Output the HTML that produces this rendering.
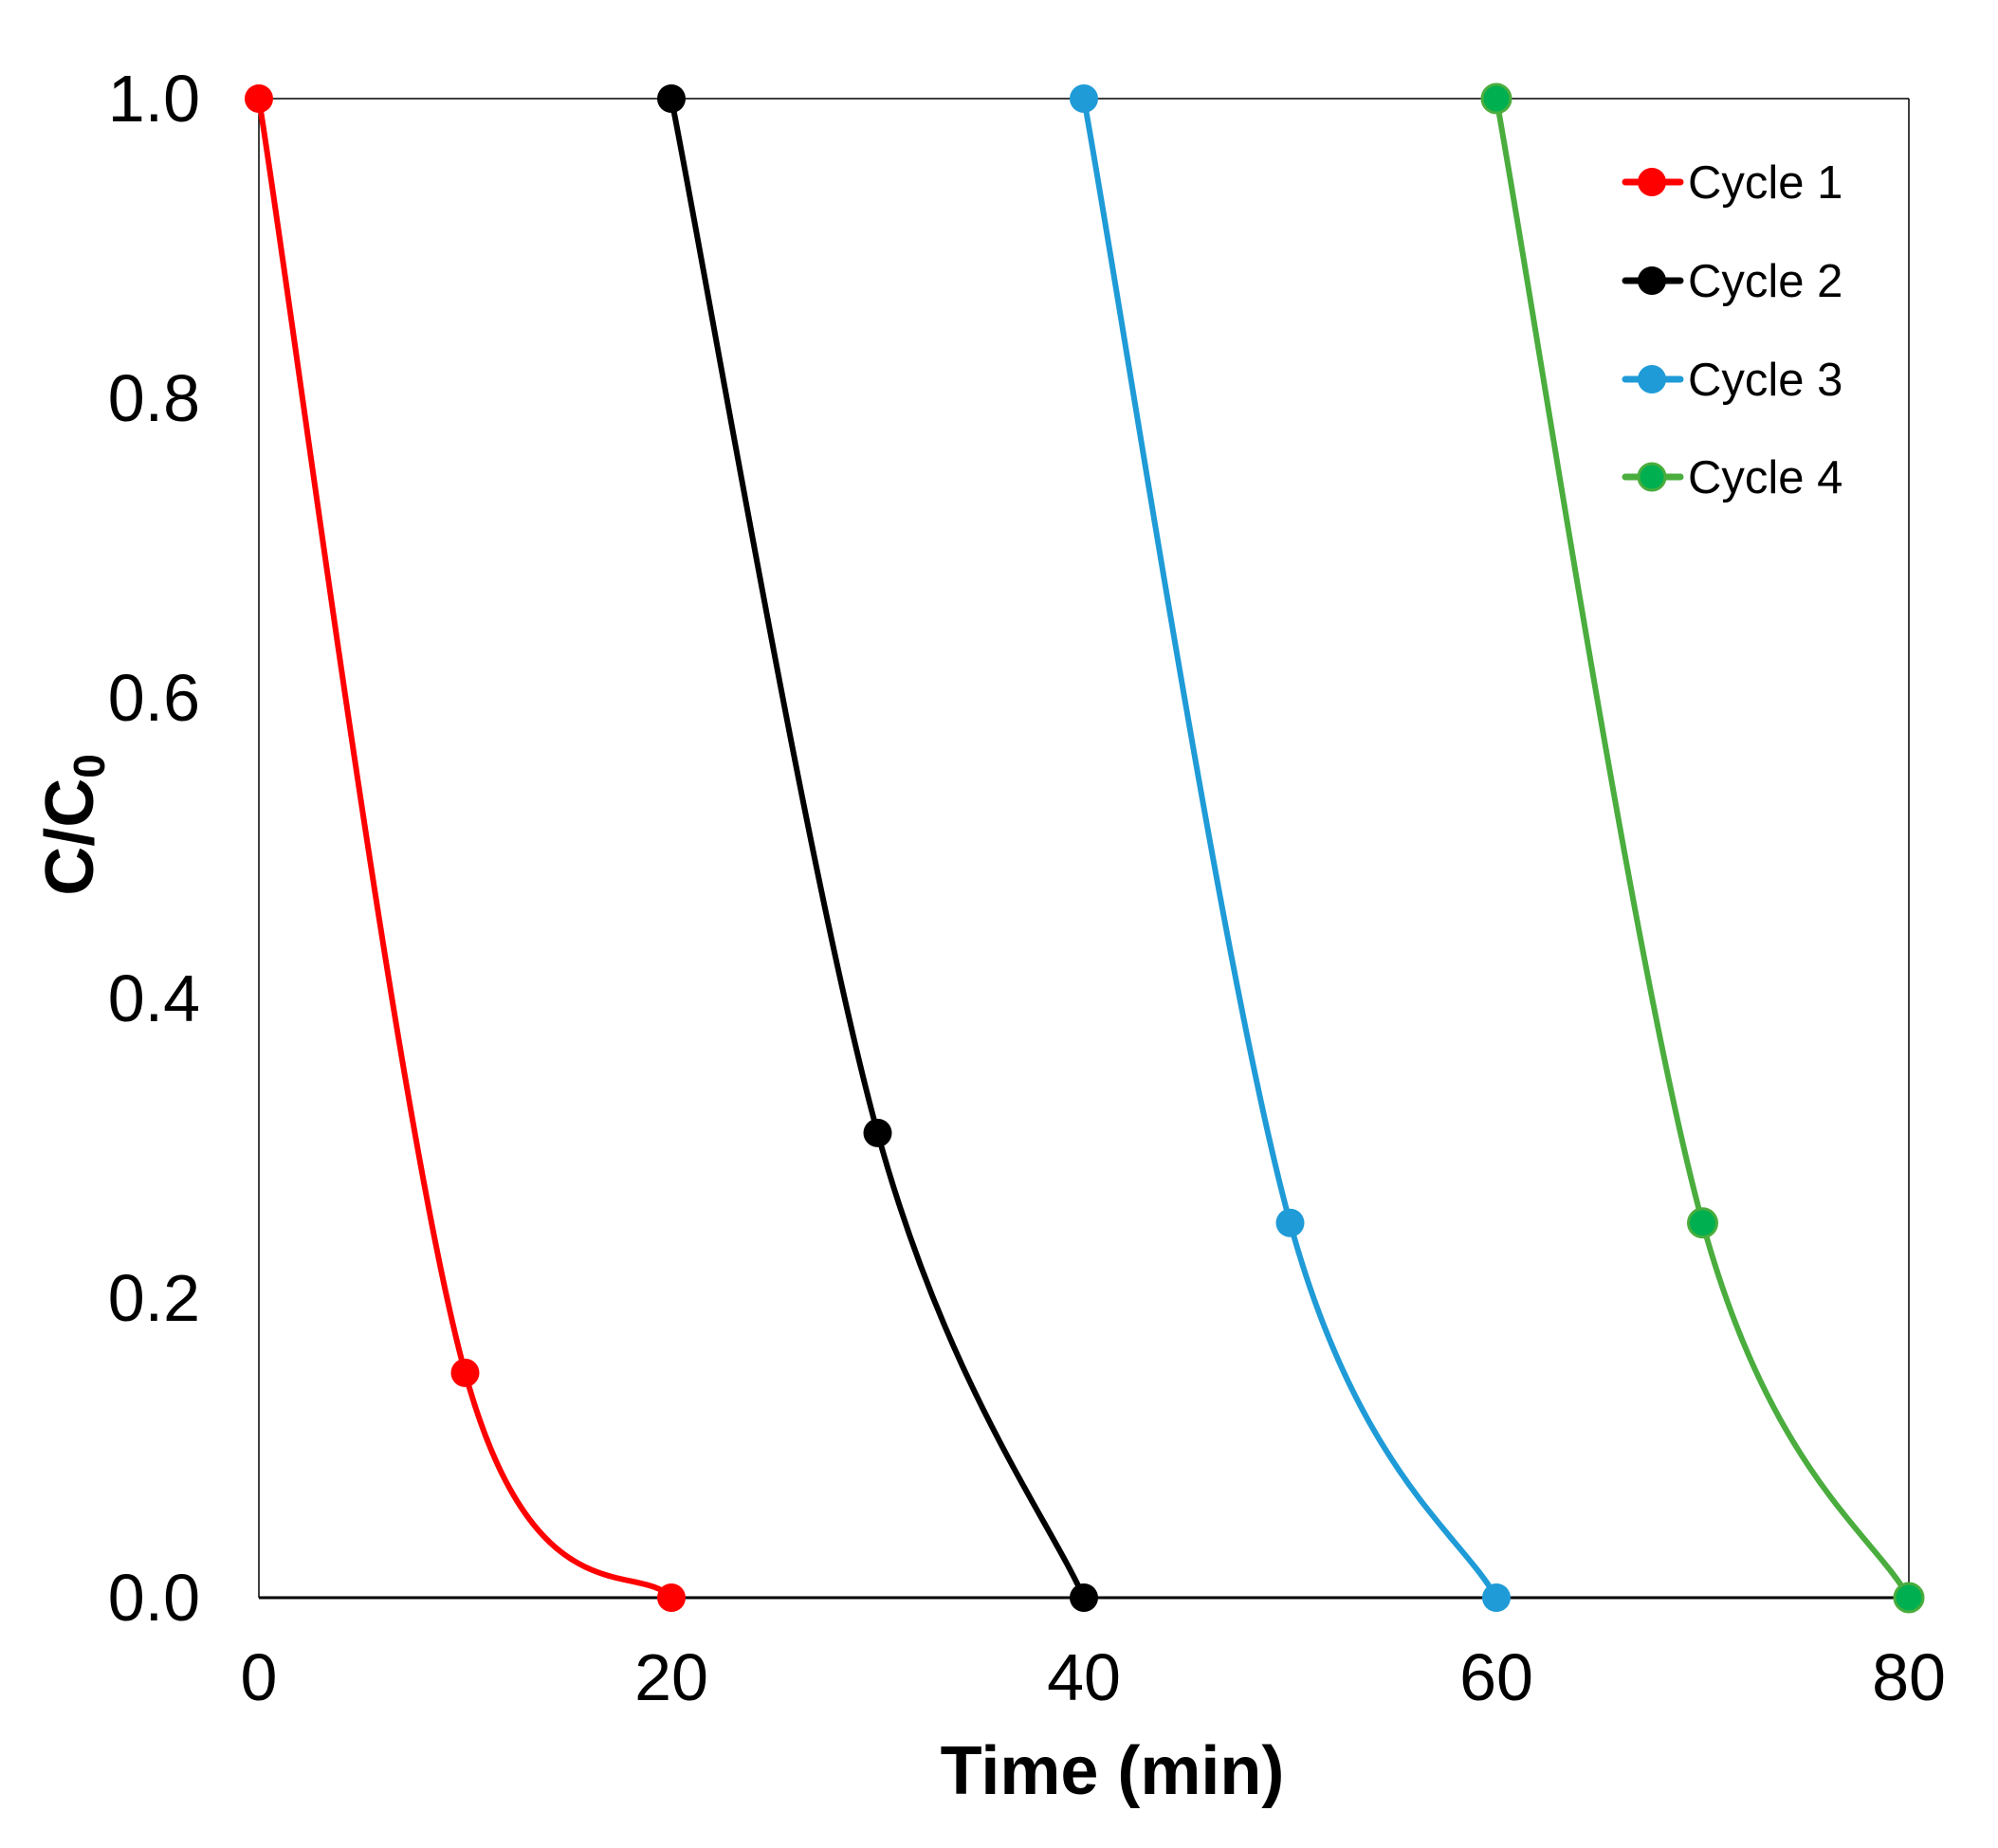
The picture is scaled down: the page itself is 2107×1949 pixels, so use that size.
<!DOCTYPE html>
<html><head><meta charset="utf-8"><style>
html,body{margin:0;padding:0;background:#fff;}
svg{display:block;}
text{font-family:"Liberation Sans",Arial,sans-serif;fill:#000;}
</style></head><body>
<svg id="s" width="2107" height="1949" viewBox="0 0 2107 1949" xmlns="http://www.w3.org/2000/svg">
<rect width="2107" height="1949" fill="#fff"/>
<line x1="273" y1="104" x2="2013" y2="104" stroke="#000" stroke-width="1.5"/>
<line x1="2013" y1="104" x2="2013" y2="1685" stroke="#000" stroke-width="1.5"/>
<line x1="273" y1="104" x2="273" y2="1685" stroke="#000" stroke-width="1.5"/>
<line x1="273" y1="1685" x2="2013" y2="1685" stroke="#000" stroke-width="3"/>
<g font-size="70" text-anchor="end">
<text x="211" y="128">1.0</text>
<text x="211" y="444">0.8</text>
<text x="211" y="760">0.6</text>
<text x="211" y="1077">0.4</text>
<text x="211" y="1393">0.2</text>
<text x="211" y="1709">0.0</text>
</g>
<g font-size="70" text-anchor="middle">
<text x="273" y="1793">0</text>
<text x="708" y="1793">20</text>
<text x="1143" y="1793">40</text>
<text x="1578" y="1793">60</text>
<text x="2013" y="1793">80</text>
</g>
<text x="1173" y="1892" font-size="72" font-weight="bold" text-anchor="middle">Time (min)</text>
<text transform="translate(98,870) rotate(-90)" font-size="72" font-weight="bold" text-anchor="middle">C/C<tspan font-size="46" dy="12">0</tspan></text>
<g id="series"></g>
<g font-size="49">
<line x1="1714" y1="192" x2="1772" y2="192" stroke="#ff0000" stroke-width="7" stroke-linecap="round"/><circle cx="1742" cy="192" r="15" fill="#ff0000"/><text x="1780" y="209">Cycle 1</text>
<line x1="1714" y1="296" x2="1772" y2="296" stroke="#000" stroke-width="7" stroke-linecap="round"/><circle cx="1742" cy="296" r="15" fill="#000"/><text x="1780" y="313">Cycle 2</text>
<line x1="1714" y1="400" x2="1772" y2="400" stroke="#1f9bd7" stroke-width="7" stroke-linecap="round"/><circle cx="1742" cy="400" r="15" fill="#1f9bd7"/><text x="1780" y="417">Cycle 3</text>
<line x1="1714" y1="503" x2="1772" y2="503" stroke="#4aad3e" stroke-width="7" stroke-linecap="round"/><circle cx="1742" cy="503" r="14" fill="#00b050" stroke="#4aad3e" stroke-width="3"/><text x="1780" y="520">Cycle 4</text>
</g>
</svg>
<script>
(function(){
var X=function(t){return 273+t*21.75;},Y=function(v){return 1685-1581*v;};
var S=[
 {c:"#ff0000",m:"#ff0000",p:[[0,1],[10,0.15],[20,0]]},
 {c:"#000000",m:"#000000",p:[[20,1],[30,0.31],[40,0]]},
 {c:"#1f9bd7",m:"#1f9bd7",p:[[40,1],[50,0.25],[60,0]]},
 {c:"#4aad3e",m:"#00b050",p:[[60,1],[70,0.25],[80,0]]}];
var g=document.getElementById("series"),ns="http://www.w3.org/2000/svg",html="";
S.forEach(function(s){
 var P=s.p.map(function(q){return [X(q[0]),Y(q[1])];});
 var d="M"+P[0][0]+","+P[0][1];
 for(var i=0;i<P.length-1;i++){
  var p0=P[Math.max(i-1,0)],p1=P[i],p2=P[i+1],p3=P[Math.min(i+2,P.length-1)];
  var k=1/6;
  var c1=[p1[0]+(p2[0]-p0[0])*k,p1[1]+(p2[1]-p0[1])*k];
  var c2=[p2[0]-(p3[0]-p1[0])*k,p2[1]-(p3[1]-p1[1])*k];
  d+=" C"+c1[0]+","+c1[1]+" "+c2[0]+","+c2[1]+" "+p2[0]+","+p2[1];
 }
 html+='<path d="'+d+'" fill="none" stroke="'+s.c+'" stroke-width="6"/>';
 P.forEach(function(q){html+='<circle cx="'+q[0]+'" cy="'+q[1]+'" r="15" fill="'+s.m+'"'+(s.m!=s.c?' stroke="'+s.c+'" stroke-width="3"':'')+'/>';});
});
g.innerHTML=html;
})();
</script>
</body></html>
